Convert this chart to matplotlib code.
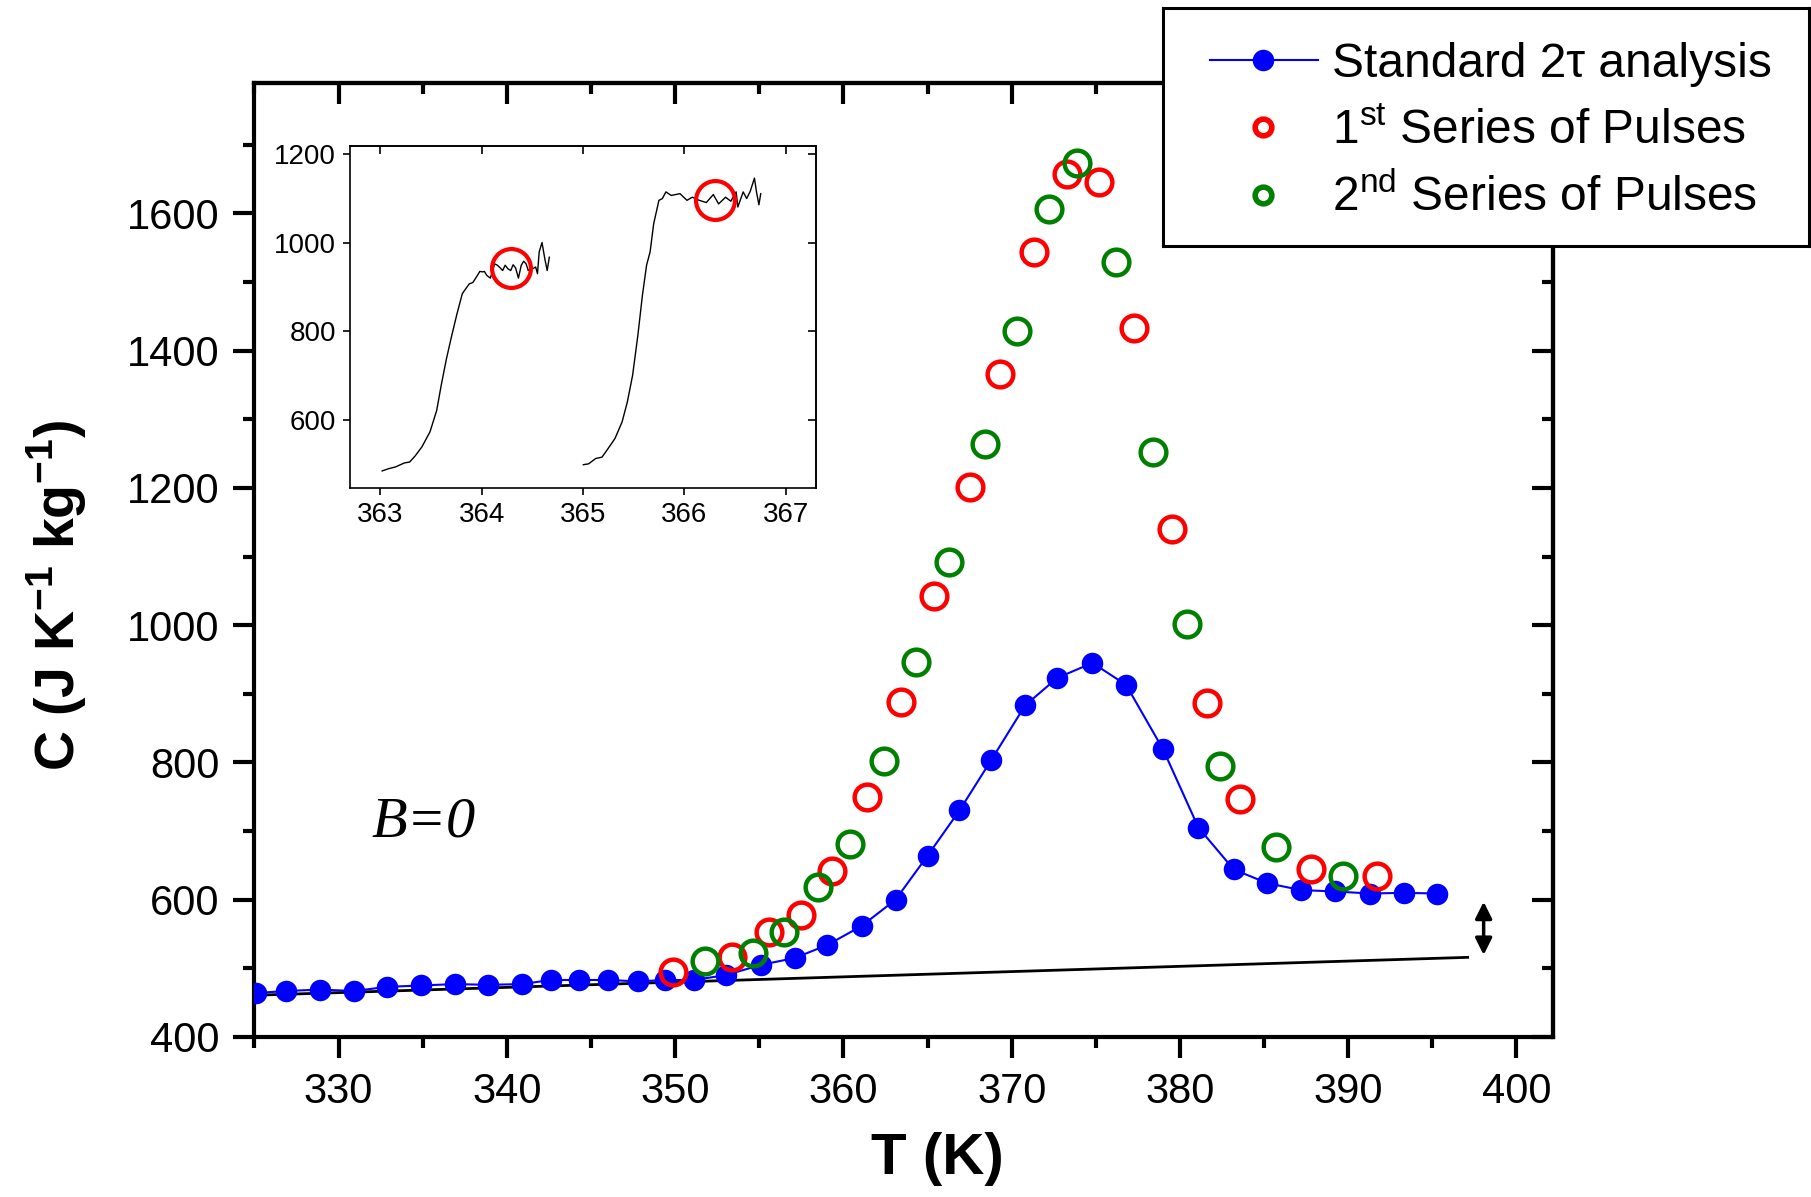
import matplotlib
matplotlib.use('Agg')
import matplotlib.pyplot as plt
from matplotlib.ticker import MultipleLocator

plt.rcParams['font.family'] = ['Liberation Sans', 'DejaVu Sans']
plt.rcParams['mathtext.fontset'] = 'custom'
plt.rcParams['mathtext.rm'] = 'Liberation Sans'
plt.rcParams['mathtext.bf'] = 'Liberation Sans:bold'

# standard 2tau analysis
t_std = [325.1, 326.9, 328.9, 330.9, 332.9, 334.9, 336.9, 338.9, 340.9, 342.6,
         344.3, 346.0, 347.8, 349.4, 351.1, 353.0, 355.1, 357.1, 359.05, 361.1,
         363.1, 365.0, 366.9, 368.8, 370.8, 372.7, 374.8, 376.8, 379.0, 381.1,
         383.2, 385.2, 387.2, 389.2, 391.3, 393.3, 395.3]
c_std = [464, 467, 469, 467, 473, 475, 477, 476, 477, 483,
         483, 483, 481, 483, 483, 490, 505, 515, 534, 562,
         600, 664, 730, 804, 883, 923, 945, 913, 819, 705,
         644, 624, 614, 612, 609, 610, 609]

# 1st series of pulses
t_p1 = [349.9, 353.4, 355.6, 357.5, 359.3, 361.4, 363.4, 365.4, 367.5, 369.3,
        371.3, 373.3, 375.2, 377.3, 379.5, 381.6, 383.6, 387.8, 391.7]
c_p1 = [495, 517, 553, 578, 642, 750, 888, 1042, 1201, 1366,
        1543, 1657, 1645, 1433, 1140, 887, 747, 644, 634]

# 2nd series of pulses
t_p2 = [351.8, 354.6, 356.5, 358.5, 360.4, 362.4, 364.3, 366.3, 368.4, 370.3,
        372.2, 373.9, 376.2, 378.4, 380.4, 382.4, 385.7, 389.7]
c_p2 = [511, 522, 553, 619, 681, 802, 947, 1092, 1264, 1428,
        1607, 1674, 1529, 1253, 1002, 795, 677, 635]

# lattice baseline and the jump arrow
t_base = [325.3, 397.1]
c_base = [461, 516]
t_arrow = 398.05
c_arrow = [519.5, 597]

# inset: two pulses
t_in1 = [363.017, 363.080, 363.149, 363.236, 363.288, 363.340, 363.409, 363.489,
         363.555, 363.600, 363.652, 363.704, 363.756, 363.808, 363.842, 363.877,
         363.912, 363.946, 363.981, 364.009, 364.026, 364.050, 364.085, 364.127,
         364.154, 364.182, 364.206, 364.231, 364.258, 364.286, 364.310, 364.334,
         364.362, 364.390, 364.414, 364.438, 364.459, 364.480, 364.504, 364.532,
         364.550, 364.567, 364.595, 364.622, 364.646, 364.667]
c_in1 = [486, 491, 495, 504, 506, 519, 540, 574,
         622, 679, 739, 791, 840, 885, 896, 907,
         910, 922, 935, 934, 935, 926, 920, 952,
         949, 943, 937, 949, 941, 937, 950, 943,
         920, 949, 958, 952, 937, 941, 941, 945,
         930, 979, 1000, 964, 937, 967]
t_in2 = [365.003, 365.055, 365.125, 365.187, 365.246, 365.315, 365.385, 365.437,
         365.489, 365.541, 365.586, 365.627, 365.662, 365.697, 365.749, 365.783,
         365.818, 365.870, 365.957, 366.026, 366.078, 366.147, 366.217, 366.286,
         366.338, 366.407, 366.459, 366.511, 366.528, 366.581, 366.615, 366.650,
         366.692, 366.712, 366.736, 366.754]
c_in2 = [500, 502, 514, 517, 536, 559, 596, 641,
         701, 791, 881, 949, 979, 1042, 1095, 1099,
         1114, 1106, 1110, 1095, 1102, 1095, 1090, 1108,
         1087, 1102, 1093, 1114, 1080, 1114, 1099, 1115,
         1145, 1114, 1085, 1110]
t_ring = [364.29, 366.30]
c_ring = [943, 1096]

legend_labels = [u'Standard 2\u03c4 analysis',
                 r'1$^{\mathrm{st}}$ Series of Pulses',
                 r'2$^{\mathrm{nd}}$ Series of Pulses']

fig = plt.figure(figsize=(18.11, 11.97), dpi=100)
ax = fig.add_axes([0.1405, 0.1337, 0.7173, 0.797])

ax.plot(t_std, c_std, color='blue', lw=1.5, marker='o', ms=15.5, mew=0, zorder=3)
ax.plot(t_p1, c_p1, ls='none', marker='o', ms=18.5, mfc='none', mec='red', mew=3.2, zorder=4)
ax.plot(t_p2, c_p2, ls='none', marker='o', ms=18.5, mfc='none', mec='green', mew=3.2, zorder=4)
ax.plot(t_base, c_base, color='black', lw=2, zorder=2)
ax.annotate('', xy=(t_arrow, c_arrow[0]), xytext=(t_arrow, c_arrow[1]),
            arrowprops=dict(arrowstyle='<|-|>', color='black', lw=2.5,
                            mutation_scale=25, shrinkA=0, shrinkB=0))
ax.text(331.97, 692, 'B=0', family='Liberation Serif', style='italic', fontsize=42)

ax.set_xlim(325, 402.2)
ax.set_ylim(400, 1790)
ax.xaxis.set_major_locator(MultipleLocator(10))
ax.xaxis.set_minor_locator(MultipleLocator(5))
ax.yaxis.set_major_locator(MultipleLocator(200))
ax.yaxis.set_minor_locator(MultipleLocator(100))
ax.tick_params(which='both', direction='out', width=3, labelsize=30, pad=10)
ax.tick_params(which='major', length=15)
ax.tick_params(which='minor', length=8)
for s in ax.spines.values():
    s.set_linewidth(3)

top = ax.secondary_xaxis('top')
top.xaxis.set_major_locator(MultipleLocator(10))
top.xaxis.set_minor_locator(MultipleLocator(5))
top.tick_params(which='both', direction='in', width=3, labeltop=False)
top.tick_params(which='major', length=15)
top.tick_params(which='minor', length=8)
top.spines['top'].set_linewidth(3)
right = ax.secondary_yaxis('right')
right.yaxis.set_major_locator(MultipleLocator(200))
right.yaxis.set_minor_locator(MultipleLocator(100))
right.tick_params(which='both', direction='in', width=3, labelright=False)
right.tick_params(which='major', length=15)
right.tick_params(which='minor', length=8)
right.spines['right'].set_linewidth(3)

ax.set_xlabel('T (K)', fontsize=42, fontweight='bold')
ax.xaxis.set_label_coords(0.5254, -0.100)
ax.set_ylabel(r'C (J K$^{\mathbf{-1}}$ kg$^{\mathbf{-1}}$)', fontsize=40, fontweight='bold')
ax.yaxis.set_label_coords(-0.127, 0.463)

# legend box, drawn by hand so it sits over the axes like the original
lax = fig.add_axes([1163 / 1811, 1 - 246 / 1197, 646 / 1811, 238 / 1197], zorder=10)
lax.set_xlim(0, 1)
lax.set_ylim(0, 1)
lax.set_xticks([])
lax.set_yticks([])
for s in lax.spines.values():
    s.set_linewidth(2.2)
row_y = [0.781, 0.50, 0.214]
base_y = [0.712, 0.430, 0.145]
lax.plot([0.073, 0.24], [row_y[0], row_y[0]], color='blue', lw=1.5)
lax.plot([0.155], [row_y[0]], ls='none', marker='o', color='blue', ms=15.5, mew=0)
lax.plot([0.155], [row_y[1]], ls='none', marker='o', mfc='white', mec='red', ms=12, mew=4)
lax.plot([0.155], [row_y[2]], ls='none', marker='o', mfc='white', mec='green', ms=12, mew=4)
for lab, yb in zip(legend_labels, base_y):
    lax.text(0.2616, yb, lab, fontsize=34.5, va='baseline', ha='left')

# inset
axi = fig.add_axes([0.1933, 0.5921, 0.2573, 0.2862])
axi.plot(t_in1, c_in1, color='black', lw=1)
axi.plot(t_in2, c_in2, color='black', lw=1)
axi.plot(t_ring, c_ring, ls='none', marker='o', ms=28, mfc='none', mec='red', mew=3)
axi.set_xlim(362.7, 367.3)
axi.set_ylim(447, 1218)
axi.xaxis.set_major_locator(MultipleLocator(1))
axi.yaxis.set_major_locator(MultipleLocator(200))
axi.tick_params(direction='out', length=5, width=1.2, labelsize=20, pad=5)
for s in axi.spines.values():
    s.set_linewidth(1.2)
itop = axi.secondary_xaxis('top')
itop.xaxis.set_major_locator(MultipleLocator(1))
itop.tick_params(direction='in', length=6, width=1.2, labeltop=False)
itop.spines['top'].set_linewidth(1.2)
iright = axi.secondary_yaxis('right')
iright.yaxis.set_major_locator(MultipleLocator(200))
iright.tick_params(direction='in', length=6, width=1.2, labelright=False)
iright.spines['right'].set_linewidth(1.2)

plt.savefig('out.png', dpi=100)
